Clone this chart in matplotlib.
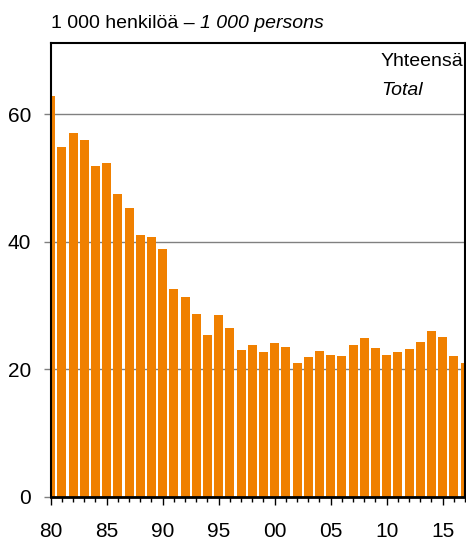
import matplotlib.pyplot as plt
import numpy as np

plt.rcParams['font.family'] = ['Liberation Sans', 'DejaVu Sans']

vuodet = np.arange(1980, 2018)
henkilot = [62.9, 54.9, 57.0, 55.9, 51.8, 52.4, 47.4, 45.2, 41.0, 40.7,
            38.8, 32.5, 31.3, 28.6, 25.3, 28.5, 26.4, 23.0, 23.8, 22.7,
            24.1, 23.4, 20.9, 21.9, 22.8, 22.3, 22.0, 23.8, 24.9, 23.3,
            22.3, 22.7, 23.1, 24.2, 26.0, 25.0, 22.0, 20.9]
ytikit = [0, 20, 40, 60]
xtikit = np.arange(1980, 2016, 5)
xnimet = ['80', '85', '90', '95', '00', '05', '10', '15']

fig = plt.figure(figsize=(4.66, 5.42), dpi=100)
ax = fig.add_axes([0.1088, 0.0836, 0.8892, 0.8364])

ax.bar(vuodet, henkilot, width=0.8, color='#f08000', zorder=2)

ax.set_xlim(1980, 2017)
ax.set_ylim(0, 71.1)
ax.set_axisbelow(True)

ax.set_yticks(ytikit)
ax.set_yticklabels([str(v) for v in ytikit])
ax.yaxis.grid(True, color='#808080', lw=1.0)
ax.tick_params(axis='y', length=5, width=1.0, color='#808080', pad=9, labelsize=15)

ax.set_xticks(xtikit)
ax.set_xticklabels(xnimet)
ax.set_xticks(vuodet, minor=True)
ax.tick_params(axis='x', which='major', length=6, width=1.0, pad=12, labelsize=15)
ax.tick_params(axis='x', which='minor', length=3.5, width=1.0)

for side in ['left', 'top', 'right']:
    ax.spines[side].set_linewidth(1.5)
ax.spines['bottom'].set_linewidth(2)
ax.spines['bottom'].set_zorder(3)

# otsikko: suomi pystyllä, englanti kursiivilla perään
t1 = fig.text(0.1088, 0.957, '1 000 henkilöä – ', fontsize=14, va='center', ha='left')
fig.canvas.draw()
bb = t1.get_window_extent().transformed(fig.transFigure.inverted())
fig.text(bb.x1, 0.957, '1 000 persons', fontsize=14, style='italic', va='center', ha='left')

ax.text(0.797, 0.960, 'Yhteensä', transform=ax.transAxes, fontsize=14, ha='left', va='center')
ax.text(0.797, 0.896, 'Total', transform=ax.transAxes, fontsize=14, style='italic', ha='left', va='center')

fig.savefig('out.png', dpi=100)
